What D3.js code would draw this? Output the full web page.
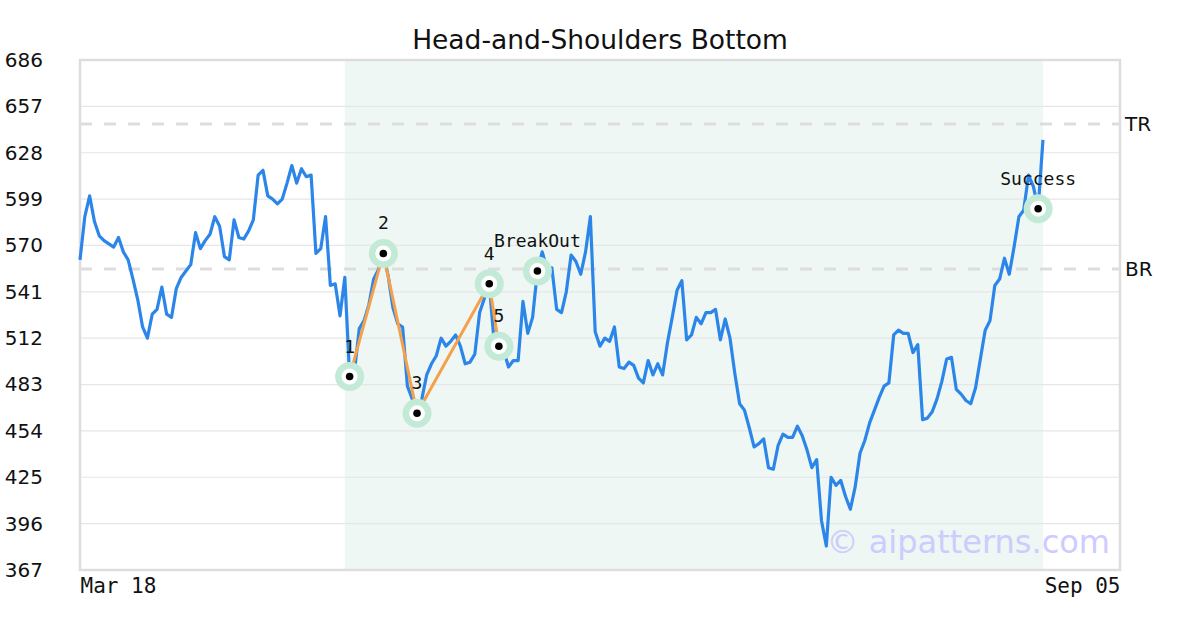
<!DOCTYPE html>
<html>
<head>
<meta charset="utf-8">
<script src="https://cdn.jsdelivr.net/npm/d3@7"></script>
<style>
  html, body { margin: 0; padding: 0; background: #fff; }
  svg { display: block; }
</style>
</head>
<body>
<svg id="chart" width="1200" height="630"></svg>
<script>
// ---- data ----
const title = "Head-and-Shoulders Bottom";
const xTickLabels = ["Mar 18", "Sep 05"];
const xDomainEnd = 216;
const yTicks = [367, 396, 425, 454, 483, 512, 541, 570, 599, 628, 657, 686];
const prices = [
  561, 588, 601, 585, 576, 573, 571, 569, 575, 566,
  561, 549, 536, 519, 512, 527, 530, 544, 527, 525,
  543, 550, 554, 558, 578, 568, 573, 577, 588, 582,
  563, 561, 586, 575, 574, 579, 586, 614, 617, 601,
  599, 596, 599, 609, 620, 609, 618, 613, 614, 565,
  568, 588, 545, 546, 526, 550, 488, 491, 518, 523,
  533, 549, 555, 565, 551, 531, 521, 519, 482, 474,
  465, 474, 489, 496, 501, 512, 507, 510, 514, 507,
  496, 497, 502, 528, 537, 546, 510, 507, 504, 494,
  498, 498, 535, 515, 525, 554, 566, 555, 556, 530,
  528, 541, 564, 560, 552, 566, 588, 516, 507, 512,
  510, 519, 494, 493, 497, 495, 487, 484, 498, 489,
  496, 489, 509, 525, 542, 548, 511, 514, 525, 521,
  528, 528, 530, 511, 524, 512, 490, 471, 467, 456,
  444, 446, 449, 431, 430, 445, 452, 450, 450, 457,
  451, 442, 431, 436, 398, 382, 425, 420, 423, 413,
  405, 419, 440, 448, 459, 467, 475, 482, 484, 514,
  517, 515, 515, 503, 508, 461, 462, 466, 474, 485,
  499, 500, 480, 477, 473, 471, 481, 499, 517, 523,
  545, 549, 562, 552, 569, 588, 592, 614, 607, 593,
  636
];
const patternRange = [55, 200];
const patternPoints = [
  { i: 56, label: "1" },
  { i: 63, label: "2" },
  { i: 70, label: "3" },
  { i: 85, label: "4" },
  { i: 87, label: "5" }
];
const signalPoints = [
  { i: 95, label: "BreakOut" },
  { i: 199, label: "Success" }
];
const levels = [
  { name: "TR", value: 646 },
  { name: "BR", value: 555.3 }
];
const watermark = "\u00a9 aipatterns.com";

// ---- drawing ----
const W = 1200, H = 630;
const m = { left: 80, right: 80, top: 60, bottom: 60 };
const svg = d3.select("#chart");

const x = d3.scaleLinear().domain([0, xDomainEnd]).range([m.left, W - m.right]);
const y = d3.scaleLinear().domain([367, 686]).range([H - m.bottom, m.top]);

const sans = "'DejaVu Sans', sans-serif";
const mono = "'DejaVu Sans Mono', monospace";

// shaded pattern region
svg.append("rect")
  .attr("x", x(patternRange[0]))
  .attr("y", y(686))
  .attr("width", x(patternRange[1]) - x(patternRange[0]))
  .attr("height", y(367) - y(686))
  .attr("fill", "#eef7f3");

// gridlines
svg.append("g")
  .selectAll("line")
  .data(yTicks)
  .join("line")
  .attr("x1", x(0)).attr("x2", x(xDomainEnd))
  .attr("y1", d => y(d)).attr("y2", d => y(d))
  .attr("stroke", "#e6e6e6").attr("stroke-width", 1.2);

// level lines
svg.append("g")
  .selectAll("line")
  .data(levels)
  .join("line")
  .attr("x1", x(0)).attr("x2", x(xDomainEnd))
  .attr("y1", d => y(d.value)).attr("y2", d => y(d.value))
  .attr("stroke", "#dddddd").attr("stroke-width", 3)
  .attr("stroke-dasharray", "12,12");

svg.append("g")
  .selectAll("text")
  .data(levels)
  .join("text")
  .attr("x", x(xDomainEnd) + 5)
  .attr("y", d => y(d.value))
  .attr("dy", "0.36em")
  .attr("font-family", sans).attr("font-size", 20)
  .attr("fill", "#111")
  .text(d => d.name);

// frame
svg.append("rect")
  .attr("x", x(0)).attr("y", y(686))
  .attr("width", x(xDomainEnd) - x(0))
  .attr("height", y(367) - y(686))
  .attr("fill", "none").attr("stroke", "#dddddd").attr("stroke-width", 2.5);

// watermark
svg.append("text")
  .attr("x", x(xDomainEnd) - 10)
  .attr("y", y(367) - 17)
  .attr("text-anchor", "end")
  .attr("font-family", sans).attr("font-size", 32)
  .attr("fill", "#ccccff")
  .text(watermark);

// price line
svg.append("path")
  .datum(prices)
  .attr("fill", "none")
  .attr("stroke", "#2c86e9")
  .attr("stroke-width", 3.2)
  .attr("stroke-linejoin", "round")
  .attr("d", d3.line().x((d, i) => x(i)).y(d => y(d)));

// pattern line
svg.append("path")
  .datum(patternPoints)
  .attr("fill", "none")
  .attr("stroke", "#f5a04a")
  .attr("stroke-width", 3)
  .attr("d", d3.line().x(d => x(d.i)).y(d => y(prices[d.i])));

// markers
const allPts = patternPoints.concat(signalPoints);
const mk = svg.append("g").selectAll("g").data(allPts).join("g")
  .attr("transform", d => `translate(${x(d.i)},${y(prices[d.i])})`);
mk.append("circle").attr("r", 14.5).attr("fill", "#c3ead6");
mk.append("circle").attr("r", 8).attr("fill", "#ffffff");
mk.append("circle").attr("r", 3.8).attr("fill", "#000000");
mk.append("text")
  .attr("y", -24)
  .attr("text-anchor", "middle")
  .attr("font-family", mono).attr("font-size", 18)
  .attr("fill", "#111")
  .text(d => d.label);

// axes
const yAxis = svg.append("g")
  .attr("transform", `translate(${m.left},0)`)
  .call(d3.axisLeft(y).tickValues(yTicks).tickSize(0).tickPadding(37));
yAxis.select(".domain").remove();
yAxis.selectAll("text")
  .attr("font-family", sans).attr("font-size", 20).attr("fill", "#111");

const xAxis = svg.append("g")
  .attr("transform", `translate(0,${H - m.bottom})`)
  .call(d3.axisBottom(x).tickValues([0, xDomainEnd]).tickSize(0).tickPadding(8)
    .tickFormat((d, i) => xTickLabels[i]));
xAxis.select(".domain").remove();
xAxis.selectAll("text")
  .attr("font-family", mono).attr("font-size", 21).attr("fill", "#111")
  .attr("text-anchor", (d, i) => i === 0 ? "start" : "end");

// title
svg.append("text")
  .attr("x", W / 2).attr("y", 49)
  .attr("text-anchor", "middle")
  .attr("font-family", sans).attr("font-size", 26.5)
  .attr("fill", "#111")
  .text(title);
</script>
</body>
</html>
